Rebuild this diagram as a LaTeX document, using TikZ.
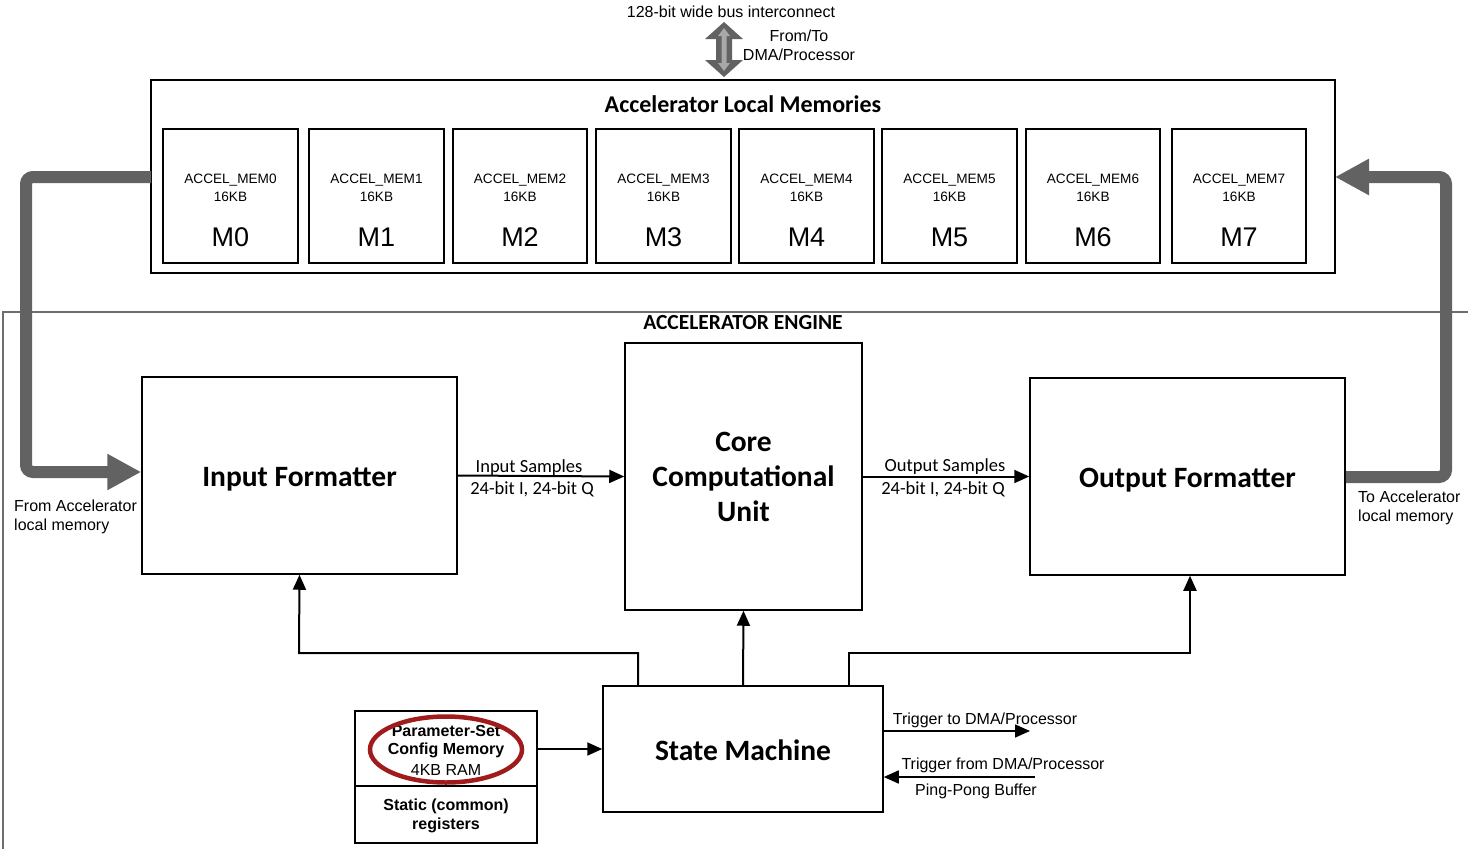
\documentclass[tikz,border=0pt]{standalone}
\usepackage{fontspec}
\setmainfont{Liberation Sans}
\newfontfamily\calfont{Carlito}
\usetikzlibrary{arrows.meta}
\definecolor{fatgray}{HTML}{626262}
\definecolor{lightgr}{HTML}{A8A8A8}
\definecolor{ringred}{HTML}{A01C1C}
\definecolor{framegray}{HTML}{6E6E6E}
\tikzset{
  box/.style={draw=black, line width=1.5pt, inner sep=0pt},
  membox/.style={draw=black, line width=1.5pt},
  sig/.style={draw=black, line width=2pt, -{Triangle[length=15pt,width=13pt]}},
  thin sig/.style={draw=black, line width=1.6pt, -{Triangle[length=15pt,width=13pt]}},
  fat/.style={draw=fatgray, line width=12pt, rounded corners=7pt, -{Triangle[length=34pt,width=34pt]}},
  arialtxt/.style={font=\fontsize{16}{19}\selectfont, inner sep=0pt, yshift=-1.5pt},
  boldtxt/.style={font=\bfseries\fontsize{16}{19}\selectfont, inner sep=0pt, yshift=-1pt},
  memtxt/.style={font=\fontsize{13.6}{15}\selectfont, inner sep=0pt, align=center, yshift=-1.5pt},
  bigM/.style={font=\fontsize{27}{29}\selectfont, inner sep=0pt},
  title/.style={font=\calfont\bfseries\fontsize{24}{26}\selectfont, inner sep=0pt},
  blocktxt/.style={font=\calfont\bfseries\fontsize{29.5}{35}\selectfont, inner sep=0pt, align=center},
  lbl/.style={font=\calfont\fontsize{18.5}{20}\selectfont, inner sep=0pt, yshift=-1.5pt},
}
\begin{document}
\begin{tikzpicture}[x=1pt,y=-1pt]
\useasboundingbox (0,0) rectangle (1468,849);

% bus interconnect at the top
\node[arialtxt] (bustxt) at (731,10) {128-bit wide bus interconnect};
\fill[fatgray] (724,22) -- (743,39) -- (732,39) -- (732,60) -- (743,60) -- (724,77)
  -- (705,60) -- (716,60) -- (716,39) -- (705,39) -- cycle;
\fill[lightgr] (724,28) -- (730,36) -- (726.5,36) -- (726.5,63) -- (730,63) -- (724,71)
  -- (718,63) -- (721.5,63) -- (721.5,36) -- (718,36) -- cycle;
\node[arialtxt] (fromto) at (799,34) {From/To};
\node[arialtxt] (dmaproc) at (799,53) {DMA/Processor};

% local memories
\draw[line width=1.6pt] (151,80) rectangle (1335,273);
\coordinate (memL) at (151,177);
\coordinate (memR) at (1335,177);
\node[title] (memtitle) at (743,104) {Accelerator Local Memories};

\foreach \i/\xa/\xb in {0/163/298, 1/309/444, 2/453/587, 3/596/731, 4/739/874, 5/882/1017, 6/1026/1160, 7/1172/1306}{
  \draw[membox] (\xa,129) rectangle (\xb,263);
  \node[memtxt] (memname\i) at ({(\xa+\xb)/2},179) {ACCEL\_MEM\i};
  \node[memtxt] (memsize\i) at ({(\xa+\xb)/2},195) {16KB};
  \node[bigM] (mlabel\i) at ({(\xa+\xb)/2},237) {M\i};
}

% accelerator engine frame
\draw[framegray, line width=1.4pt] (3,849) -- (3,312) -- (1468,312);
\node[title, font=\calfont\bfseries\fontsize{21.5}{23}\selectfont] (engtitle) at (743,323) {ACCELERATOR ENGINE};

% main blocks
\node[box, minimum width=315pt, minimum height=197pt] (inf) at (299.5,475.5) {};
\node[blocktxt] (inftxt) at ([yshift=-3.5pt]inf.center) {Input Formatter};
\node[box, minimum width=237pt, minimum height=267pt, blocktxt] (core) at (743.5,476.5) {Core\\Computational\\Unit};
\node[box, minimum width=315pt, minimum height=197pt] (outf) at (1187.5,476.5) {};
\node[blocktxt] (outftxt) at ([yshift=-3.5pt]outf.center) {Output Formatter};
\node[box, minimum width=280pt, minimum height=126pt] (sm) at (743,749) {};
\node[blocktxt] (smtxt) at ([yshift=-1.5pt]sm.center) {State Machine};

% parameter-set config memory
\draw[line width=1.2pt] (355,711) rectangle (537,843);
\draw[line width=1.2pt] (355,786) -- (537,786);
\node[boldtxt] (pset) at (446,730) {Parameter-Set};
\node[boldtxt] (cfgmem) at (446,749) {Config Memory};
\node[arialtxt] (ram) at (446,768) {4KB RAM};
\node[boldtxt] (stat) at (446,805) {Static (common)};
\node[boldtxt] (regs) at (446,824) {registers};
\draw[ringred, line width=4.5pt] (446,749.5) ellipse (76 and 33);
\coordinate (cfgout) at (537,749);
\draw[sig] (cfgout) -- (sm.west |- cfgout);

% data path
\draw[sig] (inf.east) -- (core.west);
\node[lbl] (insamp) at (529,466) {Input Samples};
\node[lbl] (inbits) at (532,488) {24-bit I, 24-bit Q};
\draw[sig] (core.east) -- (outf.west);
\node[lbl] (outsamp) at (945,465) {Output Samples};
\node[lbl] (outbits) at (943,488) {24-bit I, 24-bit Q};

% control from the state machine
\draw[sig] (sm.north) -- (core.south);
\draw[sig] (sm.north -| 638,0) -- (638,653) -- (299,653) -- (inf.south);
\draw[sig] (sm.north -| 849,0) -- (849,653) -- (1190,653) -- (outf.south -| 1190,0);

% triggers
\coordinate (trigto) at (1030,731);
\coordinate (trigfrom) at (1035,777);
\draw[thin sig] (sm.east |- trigto) -- (trigto);
\draw[thin sig] (trigfrom) -- (sm.east |- trigfrom);
\node[arialtxt] (trigtotxt) at (985,719) {Trigger to DMA/Processor};
\node[arialtxt] (trigfromtxt) at (1003,764) {Trigger from DMA/Processor};
\node[arialtxt] (pingpong) at (976,790) {Ping-Pong Buffer};

% wide transfers to and from local memory
\draw[fat] (memL) -- (26,177) -- (26,472) -- (inf.west |- 0,472);
\draw[fat] (outf.east |- 0,477) -- (1446,477) -- (1446,177) -- (memR);
\node[arialtxt, anchor=west, align=left] (fromacc) at (14,515.5) {From Accelerator\\local memory};
\node[arialtxt, anchor=west, align=left] (toacc) at (1358,506.5) {To Accelerator\\local memory};
\end{tikzpicture}
\end{document}
